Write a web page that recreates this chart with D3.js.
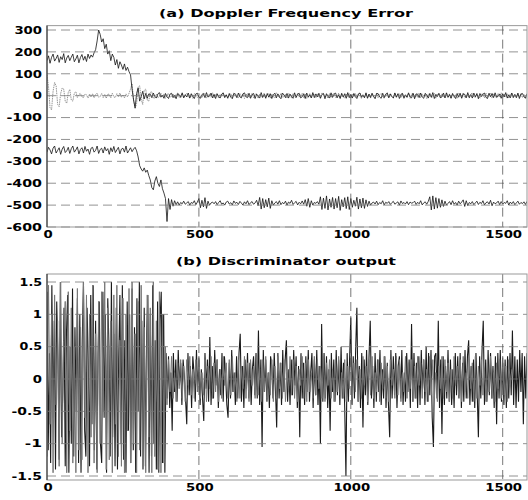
<!DOCTYPE html>
<html lang="en">
<head>
    <meta charset="UTF-8">
    <title>Doppler Frequency Error / Discriminator output</title>
    <script src="https://d3js.org/d3.v7.min.js"></script>
    <style>
        html, body {margin: 0; padding: 0; background: #fff; overflow: hidden}
        #chart {width: 528px; height: 500px}
        text {font-family: 'DejaVu Sans', sans-serif; font-weight: bold; fill: #000}
    </style>
</head>
<body>
<div id="chart"></div>
<script>

// sample spacing (x units between samples)
const stepTop = 5;
const stepDiscBlack = 4;
const stepDiscGrey = 5;

// (a) upper trace: starts near 170, peaks at 300, falls to 0
const errUpper = [160,182,148,175,190,158,170,186,152,178,165,192,150,172,184,160,176,190,155,168,
    185,150,174,188,162,180,156,190,170,186,176,196,
    210,250,300,280,245,260,215,235,190,205,160,190,175,140,165,125,155,140,120,145,115,130,110,95,
    30,-20,-55,10,35,-25,-5,20,-15,10,-12,8,
    6,-9,12,-4,-11,8,14,-7,3,-12, 10,-5,-13,7,11,-9,2,-14,9,5, -8,13,-10,4,-6,12,-11,9,-3,-13,
    8,11,-7,-12,5,10,-9,14,-6,-2, 12,-10,6,-13,9,-4,-11,7,13,-8, 3,-12,10,-7,-14,11,5,-9,12,-6,
    -10,8,13,-5,-9,11,-12,4,10,-13, 7,-3,-11,14,-8,6,-12,10,-7,9, -13,5,11,-10,8,-6,-14,12,3,-9,
    10,-11,7,-4,-12,13,-8,6,11,-10, -5,9,-13,12,-7,4,-10,14,-9,8, -6,11,-12,5,10,-14,9,-3,-11,13,
    -8,7,12,-10,4,-13,11,-6,9,-12, 14,-9,6,-11,10,-5,-13,8,12,-7, 3,-10,13,-12,7,-8,11,-4,-14,10,
    9,-6,-12,11,-9,5,13,-10,8,-3, -11,12,-7,9,-13,6,10,-12,4,-8, 13,-5,-10,11,-14,8,7,-9,12,-6,
    -12,10,4,-11,9,-7,14,-13,6,-4, 11,-9,-6,12,-10,13,-8,5,-12,9, -3,-13,10,-7,11,-12,8,6,-10,14,
    -9,5,-11,12,-6,9,-14,10,-4,7, 12,-8,-13,11,-5,10,-9,13,-7,-3, 8,-12,9,-6,14,-11,4,-10,12,-8,
    6,-9,11,-13,7,10,-5,-12,9];

// (a) grey trace around zero
const errZero = [95,40,-55,-65,20,60,45,-40,-50,10, 35,30,-25,-35,15,28,-20,-25,12,18,
    -8,6,10,-5,-9,7,4,-11,8,-6, 9,-10,5,12,-7,-4,10,-9,6,-12, 8,5,-10,11,-6,-8,9,-5,12,-7, 4,-10,8,-6,11,
    30,55,-20,-60,-35,40,45,-15,-40,25,30,-20,-25,15,18,-12,-10,
    7,-9,-4,11,-6,8,-12,5,10,-7, -3,9,-11,6,12,-8,-5,10,-9,4, 11,-6,-10,7,-12,9,3,-8,12,-5,
    -9,6,10,-11,-4,8,-7,13,-10,5, 8,-12,6,-3,11,-9,7,-10,4,9, -11,5,12,-7,-9,10,-6,8,-13,3,
    10,-8,-5,11,-10,6,9,-12,7,-4, -7,12,-9,4,10,-11,8,-6,-10,13, 5,-9,11,-8,-4,7,-12,10,6,-11,
    9,-5,-10,12,-7,3,11,-9,8,-13, -6,10,-12,7,5,-10,9,-4,-11,12, 8,-7,4,-12,10,-9,6,11,-8,-5,
    12,-10,7,-6,-11,9,-3,10,-12,8, -4,11,-9,6,12,-13,5,-7,10,-10, 7,-11,9,-5,-8,12,-10,4,11,-6,
    -12,8,6,-9,10,-4,-11,13,-7,5, 9,-10,12,-8,3,-6,11,-12,7,10, -9,5,-7,12,-10,8,-4,9,-13,6,
    11,-8,-6,10,-12,7,5,-11,9,-3, -10,12,-5,8,-9,11,-7,4,-12,10, 6,-9,13,-10,-4,8,-11,7,12,-6,
    -8,10,-3,-12,9,6,-10,11,-7,5, 12,-11,8,-4,-9,10,-6,13,-8,7, -5,9,-12,6,11,-10,4,-8,12,-7,
    10,-9,5,-11,8];

// (a) lower trace: -250 then down to about -490
const errLower = [-258,-236,-248,-266,-240,-230,-262,-250,-238,-268, -244,-232,-260,-252,-236,-264,-242,-230,-258,-248,
    -234,-266,-246,-238,-262,-232,-254,-244,-268,-240, -236,-258,-250,-230,-264,-246,-240,-262,-234,-252,
    -242,-268,-238,-256,-232,-260,-248,-236,-266,-244, -240,-258,-230,-262,-250,-238,-256,-244,-236,-252,
    -280,-320,-335,-345,-330,-350,-340,-365,-385,-420,-430,-390,-370,-400,-415,-385,-425,-445,-470,-575,
    -470,-520,-475,-505,-480,-498,-485,-500,-488,-494,
    -482,-496,-490,-484,-500,-488,-492,-480,-498,-486,
    -470,-512,-478,-508,-466,-515,-482,-500,-490,-486,
    -494,-484,-498,-488,-480,-496,-490,-500,-486,-482, -495,-489,-499,-481,-492,-487,-497,-483,-491,-500,
    -485,-494,-480,-498,-489,-484,-496,-490,-478,-502,
    -465,-518,-470,-512,-475,-508,-468,-515,-480,-500,
    -490,-484,-496,-480,-498,-488,-494,-482,-500,-486, -492,-478,-497,-489,-483,-499,-487,-494,-481,-496,
    -475,-505,-470,-510,-480,-500,-488,-492,-484,-496,
    -462,-520,-468,-515,-458,-522,-472,-510,-465,-518, -470,-512,-460,-524,-475,-508,-466,-516,-462,-520,
    -470,-510,-478,-505,-464,-518,-472,-512,-468,-515, -476,-506,-482,-500,
    -490,-486,-495,-482,-498,-488,-494,-480,-499,-487, -492,-484,-497,-489,-483,-496,-490,-485,-500,-481,
    -493,-488,-495,-484,-498,-486,-491,-489,-482,-497, -487,-494,-480,-499,-490,-485,-496,-483,
    -462,-522,-458,-518,-466,-514,-470,-510,-476,-506,-482,-500,
    -492,-484,-498,-480,-496,-488,-500,-482,-494,-486, -476,-506,-480,-502,-488,-494,-484,-498,-490,-482,
    -497,-487,-493,-480,-499,-489,-485,-495,-478,-503, -486,-494,-490,-482,-498,-484,-496,-488,-492,-480,
    -500,-486,-494,-484,-498,-490,-482,-496,-488,-493, -485,-497,-483];

// (b) discriminator output, dark trace
const discBlack = [1.35,-1.1,0.4,-1.3,1.45,-0.6,0.9,-1.4,1.2,0.3, -1.25,1.5,-0.9,-0.2,1.1,-1.35,0.7,1.3,-1.45,0.5,
    -1.0,1.4,-1.2,0.8,-0.5,1.25,-1.3,1.0,-1.45,0.6, 1.5,-0.8,-1.2,1.1,0.2,-1.35,1.3,-0.7,1.45,-1.1,
    0.9,-1.4,0.4,1.2,-1.0,-1.3,1.35,-0.6,1.0,-1.45, 1.25,0.5,-1.2,1.5,-0.9,0.7,-1.35,1.1,-1.4,0.3,
    1.3,-1.0,1.45,-1.25,0.6,-1.45,1.2,-0.8,1.0,-1.3, 1.4,-1.1,0.8,-1.45,1.25,-0.5,1.5,-1.2,0.9,-1.4,
    1.1,-1.35,0.7,1.3,-1.45,1.0,-1.2,1.45,-1.0,0.6, -1.4,1.2,-1.45,0.9,1.35,-1.3,1.0,-1.45,0.4,-0.3,
    0.35,-0.45,0.1,-0.8,0.4,-0.2,0.3,-0.35,0.45,-0.1, 0.25,-0.4,0.3,0.05,-0.3,-0.7,0.4,-0.25,0.2,-0.45,
    0.35,0.1,-0.35,0.45,-0.2,0.3,-0.4,0.15,-0.3,-0.65, 0.4,-0.15,0.3,-0.35,0.65,-0.4,0.2,-0.3,0.45,-0.1,
    0.3,-0.45,0.15,-0.25,0.4,-0.35,0.35,0.05,-0.4,-0.6, 0.25,-0.3,0.45,-0.2,0.1,-0.4,0.35,-0.3,0.4,0.7,
    -0.35,0.2,-0.45,0.3,-0.15,0.4,-0.3,0.25,-0.4,0.15, 0.35,-0.25,0.4,-0.3,0.75,-0.4,0.3,-1.05,0.45,-0.2,
    0.3,-0.35,0.1,-0.45,0.35,0.2,-0.3,0.4,-0.15,-0.75, 0.4,-0.3,0.25,-0.4,0.45,-0.2,0.3,0.6,-0.35,0.15,
    -0.4,0.3,-0.25,0.45,-0.1,0.35,-0.45,0.2,-0.9,0.4, -0.3,0.25,-0.4,0.35,-0.2,0.45,-0.35,0.1,0.4,-0.45,
    0.3,-0.25,0.45,-0.4,0.2,-1.0,0.85,-0.35,0.4,-0.3, 0.35,-0.45,0.15,-0.8,0.4,-0.2,0.3,-0.35,0.45,-0.25,
    0.3,-0.4,0.5,-0.3,0.25,-0.45,-1.5,0.4,-0.35,0.3, 0.95,-0.4,0.35,-0.3,0.45,1.1,-0.35,0.2,-0.45,0.4,
    -0.75,0.3,-0.25,0.45,-0.4,0.35,0.9,-0.3,0.2,-0.45, 0.4,-0.35,0.3,-0.2,0.45,-0.4,0.15,-0.3,0.35,-0.45,
    0.25,-0.4,-0.9,0.45,-0.3,0.35,-0.25,0.4,-0.45,0.2, 0.35,-0.3,0.45,-0.4,0.1,-0.35,0.4,-0.2,0.3,-0.45,
    0.85,-0.35,0.4,-0.3,0.25,-0.45,0.35,-0.4,0.45,-0.15, 0.3,-0.4,0.5,-0.35,0.4,-0.25,0.45,-0.6,-1.05,0.35,
    0.4,-0.3,0.9,-0.45,0.3,-0.85,0.35,-0.4,0.2,-0.3, 0.45,-0.35,0.3,-0.4,0.15,-0.45,0.4,-0.25,0.35,-0.3,
    0.4,-0.45,0.25,-0.35,0.45,-0.3,0.35,0.6,-0.4,0.2, -0.35,0.3,-0.45,0.4,-0.2,-0.9,0.35,-0.3,0.45,0.9,
    -0.4,0.3,-0.35,0.45,-0.25,0.4,-0.3,0.2,-0.45,0.35, -0.7,0.4,-0.3,0.45,-0.35,0.25,-0.4,0.3,-0.45,0.35,
    -0.3,0.4,-0.25,0.75,-0.4,0.35,-0.45,0.3,-0.35,0.45, -0.2,0.4,-0.7,0.35,-0.3,0.4];

// (b) discriminator output, grey trace
const discGrey = [-1.2,1.45,-0.7,1.0,-1.45,1.3,-0.4,0.9,-1.35,1.5, -1.0,0.6,1.2,-1.45,1.35,-0.8,1.1,-1.3,0.5,-1.45,
    1.4,-1.1,0.8,-1.25,1.5,-0.6,1.3,-1.45,1.0,-0.9, 1.45,-1.3,0.7,-1.45,1.2,-1.0,1.35,-0.5,1.5,-1.4,
    1.1,-1.25,0.9,-1.45,1.3,-0.7,1.45,-1.2,0.6,-1.35, 1.25,-1.45,1.0,-0.8,1.4,-1.3,1.5,-1.0,0.7,-1.45,
    1.2,-1.1,1.45,-1.35,0.8,-1.45,1.3,-0.9,1.1,-1.45, 1.5,-1.2,0.9,-1.4,1.35,-1.45,1.0,-1.3,0.5,-0.4,
    0.3,-0.2,0.35,-0.3,0.1,-0.35,0.25,-0.15,0.3,-0.3, 0.2,-0.35,0.3,-0.1,0.35,-0.25,0.15,-0.3,0.3,-0.2,
    0.35,-0.3,0.1,-0.25,0.3,-0.35,0.2,-0.15,0.35,-0.3, 0.25,-0.2,0.3,-0.35,0.15,-0.3,0.35,-0.1,0.25,-0.3,
    0.3,-0.25,0.35,-0.2,0.1,-0.35,0.3,-0.3,0.2,-0.15, 0.35,-0.3,0.25,-0.35,0.3,-0.1,0.2,-0.3,0.35,-0.25,
    0.15,-0.35,0.3,-0.2,0.35,-0.3,0.1,-0.25,0.3,-0.35, 0.2,-0.3,0.35,-0.15,0.25,-0.3,0.3,-0.35,0.1,-0.2,
    0.35,-0.25,0.3,-0.3,0.2,-0.35,0.15,-0.1,0.35,-0.3, 0.25,-0.35,0.3,-0.2,0.1,-0.3,0.35,-0.25,0.3,-0.15,
    0.2,-0.3,0.35,-0.35,0.25,-0.1,0.3,-0.3,0.15,-0.35, 0.3,-0.2,0.35,-0.25,0.1,-0.3,0.3,-0.35,0.2,-0.15,
    0.35,-0.3,0.25,-0.2,0.3,-0.35,0.15,-0.3,0.35,-0.1, 0.2,-0.35,0.3,-0.25,0.35,-0.3,0.1,-0.2,0.3,-0.35,
    0.25,-0.15,0.35,-0.3,0.2,-0.35,0.3,-0.1,0.15,-0.3, 0.35,-0.25,0.3,-0.35,0.1,-0.2,0.35,-0.3,0.25,-0.15,
    0.3,-0.35,0.2,-0.3,0.35,-0.1,0.25,-0.3,0.3,-0.2, 0.15,-0.35,0.35,-0.25,0.3,-0.3,0.1,-0.35,0.2,-0.15,
    0.35,-0.3,0.3,-0.2,0.25,-0.35,0.15,-0.3,0.35,-0.1, 0.2,-0.25,0.3,-0.35,0.35,-0.2,0.1,-0.3,0.3,-0.15,
    0.25,-0.35,0.35,-0.3,0.2,-0.1,0.3,-0.25,0.15,-0.35, 0.3,-0.2,0.35,-0.3,0.1,-0.35,0.25,-0.15,0.3,-0.3,
    0.35,-0.25,0.2,-0.35,0.3,-0.1,0.15];

// ticks and titles
const xTicks = [0, 500, 1000, 1500];
const yTicksTop = [300, 200, 100, 0, -100, -200, -300, -400, -500, -600];
const yTicksBottom = [1.5, 1, 0.5, 0, -0.5, -1, -1.5];
const titleTop = "(a) Doppler Frequency Error";
const titleBottom = "(b) Discriminator output";

const W = 528, H = 500;
const svg = d3.select("#chart").append("svg").attr("width", W).attr("height", H);

const x = d3.scaleLinear().domain([0, 1580]).range([47, 527]);

// wide bold lettering of the scan: stretch glyphs to measured width
function labelWidth(s){
    let w = 0;
    for (const c of String(s)) w += (c == '.') ? 4 : (c == '-') ? 8 : 9.2;
    return w;
}
function stretch(sel){
    sel.attr("textLength", d => labelWidth(d)).attr("lengthAdjust", "spacingAndGlyphs");
}

function panel(y, top, bottom, yTicks, title, titleW, titleY, series){
    const g = svg.append("g");
    const clipId = "clip" + Math.round(top);
    g.append("clipPath").attr("id", clipId)
        .append("rect").attr("x", x(0)).attr("y", top).attr("width", x.range()[1] - x(0)).attr("height", bottom - top);

    // traces
    series.forEach(s => {
        const line = d3.line().x((d, i) => x(i * s.step)).y(d => y(d));
        g.append("path").datum(s.values)
            .attr("clip-path", "url(#" + clipId + ")")
            .attr("fill", "none").attr("stroke", s.color).attr("stroke-width", s.width)
            .attr("stroke-dasharray", s.dash || null)
            .attr("d", line);
    });

    // dashed grid
    g.selectAll(".hg").data(yTicks).join("line")
        .attr("x1", x(0)).attr("x2", x.range()[1])
        .attr("y1", d => y(d)).attr("y2", d => y(d))
        .attr("stroke", "#777").attr("stroke-width", 0.8).attr("stroke-dasharray", "9,5");
    g.selectAll(".vg").data(xTicks.slice(1)).join("line")
        .attr("x1", d => x(d)).attr("x2", d => x(d))
        .attr("y1", top).attr("y2", bottom)
        .attr("stroke", "#555").attr("stroke-width", 0.8).attr("stroke-dasharray", "9,5");

    // box
    g.append("rect").attr("x", x(0)).attr("y", top)
        .attr("width", x.range()[1] - x(0)).attr("height", bottom - top)
        .attr("fill", "none").attr("stroke", "#999").attr("stroke-width", 1);
    g.append("line").attr("x1", x(0)).attr("x2", x(0)).attr("y1", top).attr("y2", bottom)
        .attr("stroke", "#222").attr("stroke-width", 1);

    // axes labels
    const yl = g.selectAll(".yl").data(yTicks).join("text")
        .attr("x", 42).attr("y", d => y(d) + 3.8)
        .attr("text-anchor", "end").attr("font-size", 10)
        .text(d => d);
    stretch(yl);

    const xl = g.selectAll(".xl").data(xTicks).join("text")
        .attr("x", d => x(d) + 1).attr("y", bottom + 11)
        .attr("text-anchor", "middle").attr("font-size", 10)
        .text(d => d);
    stretch(xl);

    g.append("text").attr("x", 286).attr("y", titleY)
        .attr("text-anchor", "middle").attr("font-size", 10)
        .attr("textLength", titleW).attr("lengthAdjust", "spacingAndGlyphs")
        .text(title);
}

// (a)
const yTop = d3.scaleLinear().domain([-600, 300]).range([227, 30]);
panel(yTop, yTop(320), yTop(-600), yTicksTop, titleTop, 254, 17, [
    {values: errZero, step: stepTop, color: "#8a8a8a", width: 0.9, dash: "1.5,0.8"},
    {values: errUpper, step: stepTop, color: "#111", width: 0.8},
    {values: errLower, step: stepTop, color: "#111", width: 0.8}
]);

// (b)
const yBot = d3.scaleLinear().domain([-1.5, 1.5]).range([476, 282]);
panel(yBot, 274, 480, yTicksBottom, titleBottom, 220, 265, [
    {values: discBlack, step: stepDiscBlack, color: "#1a1a1a", width: 1.1},
    {values: discGrey, step: stepDiscGrey, color: "#777", width: 1.0}
]);

</script>
</body>
</html>
